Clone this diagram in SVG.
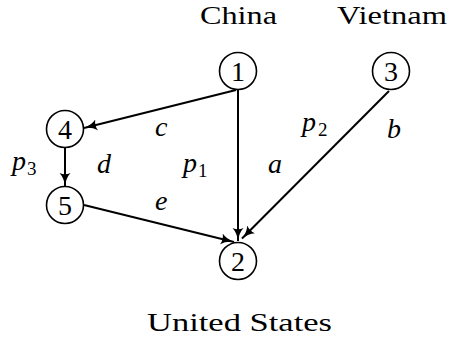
<svg xmlns="http://www.w3.org/2000/svg" width="451" height="342" viewBox="0 0 451 342">
<style>
svg text, text, tspan { font-family: 'Liberation Serif', 'Times New Roman', serif !important; }
.node circle { fill: #fff; stroke: #000; stroke-width: 1.6; }
#edges line { stroke: #000; stroke-width: 2; fill: none; }
</style>
<defs>
<marker id="arr" markerUnits="userSpaceOnUse" markerWidth="14" markerHeight="12" refX="13" refY="6" orient="auto" viewBox="0 0 14 12">
<path d="M0,0.5 Q5,5 13,6 Q5,7 0,11.5 Q2.5,6 0,0.5 z" fill="#000"/>
</marker>
</defs>
<rect width="451" height="342" fill="#fff"/>
<g id="edges">
<line x1="236" y1="90" x2="84" y2="128" marker-end="url(#arr)"/>
<line x1="238" y1="89" x2="238" y2="241" marker-end="url(#arr)"/>
<line x1="389" y1="91" x2="242" y2="238.5" marker-end="url(#arr)"/>
<line x1="65" y1="147.5" x2="65" y2="186" marker-end="url(#arr)"/>
<line x1="84" y1="205" x2="234" y2="242" marker-end="url(#arr)"/>
</g>
<g id="node1" class="node"><circle cx="238" cy="71" r="18.5"/><text style="font-family:'Liberation Serif',serif !important" font-family="Liberation Serif" font-size="28" text-anchor="middle" x="238" y="81">1</text></g>
<g id="node2" class="node"><circle cx="238" cy="261" r="18.5"/><text style="font-family:'Liberation Serif',serif !important" font-family="Liberation Serif" font-size="28" text-anchor="middle" x="238" y="271">2</text></g>
<g id="node3" class="node"><circle cx="391" cy="71" r="18.5"/><text style="font-family:'Liberation Serif',serif !important" font-family="Liberation Serif" font-size="28" text-anchor="middle" x="391" y="81">3</text></g>
<g id="node4" class="node"><circle cx="65" cy="129" r="18.5"/><text style="font-family:'Liberation Serif',serif !important" font-family="Liberation Serif" font-size="28" text-anchor="middle" x="65" y="139">4</text></g>
<g id="node5" class="node"><circle cx="65" cy="205" r="18.5"/><text style="font-family:'Liberation Serif',serif !important" font-family="Liberation Serif" font-size="28" text-anchor="middle" x="65" y="215">5</text></g>
<g id="labels">
<text style="font-family:'Liberation Serif',serif !important" font-family="Liberation Serif" font-size="26" x="200" y="24" textLength="77" lengthAdjust="spacingAndGlyphs">China</text>
<text style="font-family:'Liberation Serif',serif !important" font-family="Liberation Serif" font-size="26" x="337" y="24" textLength="110" lengthAdjust="spacingAndGlyphs">Vietnam</text>
<text style="font-family:'Liberation Serif',serif !important" font-family="Liberation Serif" font-size="26" x="147" y="331" textLength="185" lengthAdjust="spacingAndGlyphs">United States</text>
<text style="font-family:'Liberation Serif',serif !important" font-family="Liberation Serif" font-style="italic" font-size="28" x="155" y="136">c</text>
<text style="font-family:'Liberation Serif',serif !important" font-family="Liberation Serif" font-style="italic" font-size="28" x="302" y="131">p</text><text style="font-family:'Liberation Serif',serif !important" font-family="Liberation Serif" font-size="19" x="318" y="136">2</text>
<text style="font-family:'Liberation Serif',serif !important" font-family="Liberation Serif" font-style="italic" font-size="28" x="387" y="138">b</text>
<text style="font-family:'Liberation Serif',serif !important" font-family="Liberation Serif" font-style="italic" font-size="28" x="12" y="170">p</text><text style="font-family:'Liberation Serif',serif !important" font-family="Liberation Serif" font-size="19" x="27" y="175">3</text>
<text style="font-family:'Liberation Serif',serif !important" font-family="Liberation Serif" font-style="italic" font-size="28" x="97" y="173">d</text>
<text style="font-family:'Liberation Serif',serif !important" font-family="Liberation Serif" font-style="italic" font-size="28" x="183" y="172">p</text><text style="font-family:'Liberation Serif',serif !important" font-family="Liberation Serif" font-size="19" x="198" y="177">1</text>
<text style="font-family:'Liberation Serif',serif !important" font-family="Liberation Serif" font-style="italic" font-size="28" x="268" y="173">a</text>
<text style="font-family:'Liberation Serif',serif !important" font-family="Liberation Serif" font-style="italic" font-size="28" x="155" y="210">e</text>
</g>
</svg>
